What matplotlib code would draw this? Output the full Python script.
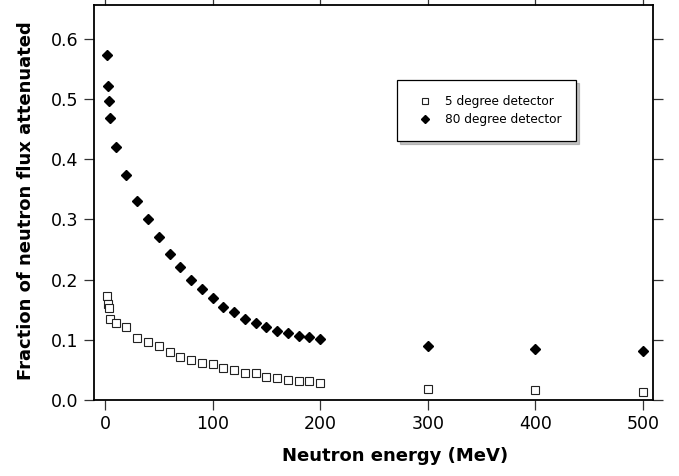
import numpy as np
import matplotlib.pyplot as plt
from matplotlib.ticker import FormatStrFormatter

plt.rcParams['font.family'] = ['DejaVu Sans']

# neutron energies (MeV)
energy = [2, 3, 4, 5, 10, 20, 30, 40, 50, 60, 70, 80, 90, 100, 110, 120,
          130, 140, 150, 160, 170, 180, 190, 200, 300, 400, 500]

# fraction of flux attenuated
frac5 = [0.173, 0.159, 0.153, 0.134, 0.128, 0.122, 0.103, 0.096, 0.089,
         0.079, 0.072, 0.066, 0.061, 0.060, 0.053, 0.049, 0.044, 0.045,
         0.039, 0.037, 0.033, 0.032, 0.031, 0.028, 0.018, 0.016, 0.014]
frac80 = [0.573, 0.522, 0.496, 0.468, 0.420, 0.374, 0.331, 0.300, 0.270,
          0.243, 0.221, 0.199, 0.184, 0.169, 0.155, 0.146, 0.134, 0.128,
          0.121, 0.115, 0.111, 0.107, 0.105, 0.101, 0.089, 0.085, 0.081]

fig = plt.figure(figsize=(6.79, 4.76), dpi=100)
ax = fig.add_axes([0.1384, 0.1597, 0.8233, 0.8298])

ax.plot(energy, frac5, linestyle='none', marker='s', markersize=5.6,
        markerfacecolor='white', markeredgecolor='#222222', markeredgewidth=0.8,
        label='5 degree detector')
ax.plot(energy, frac80, linestyle='none', marker='D', markersize=4.6,
        color='black', label='80 degree detector')

ax.set_xlim(-10.2, 509.3)
ax.set_ylim(0, 0.656)
ax.set_xticks(np.arange(0, 501, 100))
ax.set_yticks(np.arange(0, 0.61, 0.1))
ax.yaxis.set_major_formatter(FormatStrFormatter('%.1f'))

for s in ax.spines.values():
    s.set_linewidth(1.3)
ax.tick_params(direction='out', length=7, width=0.9, color='#333333',
               labelsize=12.5, top=True, right=True, pad=4)

ax.set_xlabel('Neutron energy (MeV)', fontsize=13, fontweight='bold')
ax.set_ylabel('Fraction of neutron flux attenuated', fontsize=13,
              fontweight='bold')
ax.xaxis.set_label_coords(0.538, -0.12)
ax.yaxis.set_label_coords(-0.105, 0.505)

leg = ax.legend(loc='upper left', bbox_to_anchor=(0.542, 0.81), fontsize=8.7,
                frameon=True, fancybox=False, shadow={'color': '#888888'},
                borderaxespad=0, borderpad=1.25, markerscale=0.85,
                handletextpad=0.6, labelspacing=0.38, handlelength=2.1)
leg.get_frame().set_edgecolor('black')
leg.get_frame().set_linewidth(0.9)
leg.get_frame().set_alpha(1)

fig.savefig('out.png', dpi=100)
